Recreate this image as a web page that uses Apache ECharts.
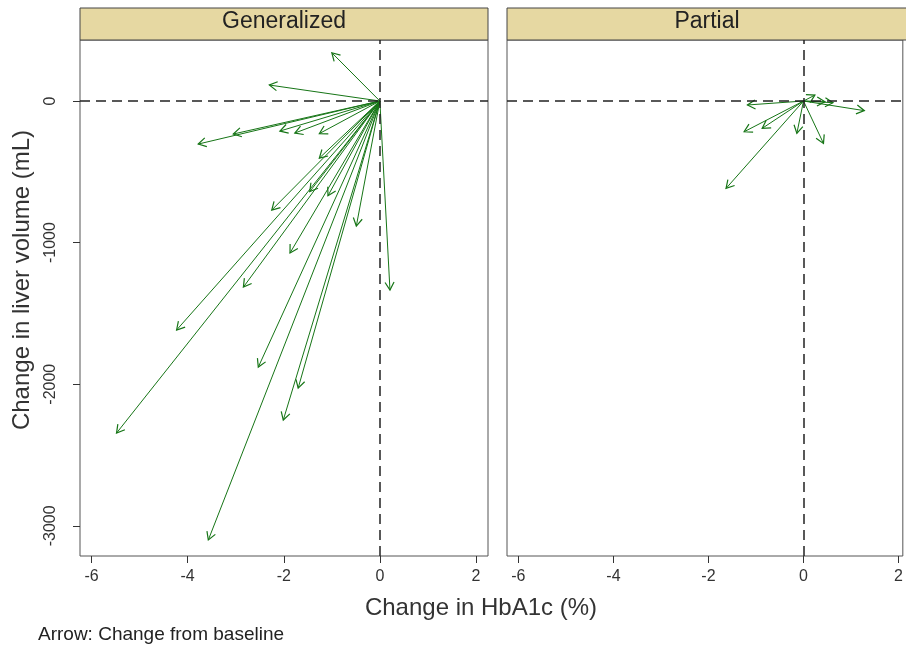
<!DOCTYPE html>
<html>
<head>
<meta charset="utf-8">
<script src="https://cdn.jsdelivr.net/npm/echarts@6/dist/echarts.min.js"></script>
<style>html,body{margin:0;padding:0;background:#fff}#c{width:906px;height:650px}</style>
</head>
<body>
<div id="c"></div>
<script>
// ---- data ----
const panels = ['Generalized', 'Partial'];
const xTicks = [-6, -4, -2, 0, 2];
const yTicks = [-3000, -2000, -1000, 0];
const genDX = [-1.00, -2.30, -3.78, -3.05, -2.08, -1.77, -1.26, -1.26, -1.46, -1.08, -2.25, -0.49, 0.21, -1.87, -2.84, -4.23, -2.53, -1.70, -2.01, -5.48, -3.57];
const genDY = [341, 113, -304, -233, -212, -226, -230, -403, -640, -669, -770, -883, -1335, -1073, -1314, -1617, -1879, -2027, -2253, -2345, -3100];
const parDX = [-1.18, -1.25, -0.87, -0.14, 0.42, -1.63, 1.28, 0.24, 0.45, 0.62];
const parDY = [-28, -217, -193, -228, -299, -617, -68, 42, -5, -12];
const xTitle = 'Change in HbA1c (%)';
const yTitle = 'Change in liver volume (mL)';
const note = 'Arrow: Change from baseline';

const FONT = '"Liberation Sans", Arial, sans-serif';
const GREEN = '#167516';

function renderArrow(params, api) {
  const s = api.coord([0, 0]);
  const e = api.coord([api.value(0), api.value(1)]);
  const ang = Math.atan2(e[1] - s[1], e[0] - s[0]);
  const L = 9, a = Math.PI / 6;
  const h1 = [e[0] - L * Math.cos(ang - a), e[1] - L * Math.sin(ang - a)];
  const h2 = [e[0] - L * Math.cos(ang + a), e[1] - L * Math.sin(ang + a)];
  return {
    type: 'group',
    children: [
      { type: 'line', shape: { x1: s[0], y1: s[1], x2: e[0], y2: e[1] }, style: { stroke: GREEN, lineWidth: 1 } },
      { type: 'polyline', shape: { points: [h1, e, h2] }, style: { stroke: GREEN, fill: null, lineWidth: 1.2 } }
    ]
  };
}

const grids = [
  { left: 80, top: 40, width: 408, height: 516 },
  { left: 507, top: 40, width: 399, height: 516 }
];
const xMax = [2.25, 2.09];

const xAxes = grids.map((g, i) => ({
  type: 'value', gridIndex: i, min: -6.24, max: xMax[i], position: 'bottom',
  axisLine: { show: false, onZero: false }, splitLine: { show: false },
  axisTick: { show: true, length: 7, lineStyle: { color: '#333' }, customValues: xTicks },
  axisLabel: { show: true, customValues: xTicks, color: '#333', fontSize: 16, fontFamily: FONT, margin: 13,
    formatter: v => String(v) }
}));
const yAxes = grids.map((g, i) => ({
  type: 'value', gridIndex: i, min: -3213, max: 431, position: 'left',
  axisLine: { show: false, onZero: false }, splitLine: { show: false },
  axisTick: { show: i === 0, length: 7, lineStyle: { color: '#333' }, customValues: yTicks },
  axisLabel: { show: i === 0, customValues: yTicks, rotate: 90, color: '#333', fontSize: 16, fontFamily: FONT, margin: 21,
    formatter: v => String(v) }
}));

function refLines() {
  return {
    symbol: 'none', silent: true, animation: false,
    label: { show: false },
    lineStyle: { type: [10, 6], color: '#222', width: 1.5 },
    data: [{ xAxis: 0 }, { yAxis: 0 }]
  };
}

const series = [
  { type: 'custom', xAxisIndex: 0, yAxisIndex: 0, renderItem: renderArrow, z: 3,
    data: genDX.map((x, i) => [x, genDY[i]]), markLine: refLines() },
  { type: 'custom', xAxisIndex: 1, yAxisIndex: 1, renderItem: renderArrow, z: 3,
    data: parDX.map((x, i) => [x, parDY[i]]), markLine: refLines() }
];

const graphic = [];
const stripW = [408, 408];
grids.forEach((g, i) => {
  graphic.push({ type: 'rect', shape: { x: g.left, y: 8, width: stripW[i], height: 32 },
    style: { fill: '#e6d8a2', stroke: '#444', lineWidth: 1 } });
  graphic.push({ type: 'text', x: g.left + stripW[i] / 2 - (i === 1 ? 4 : 0), y: 22,
    style: { text: panels[i], fill: '#222', font: '23px ' + FONT, textAlign: 'center', textVerticalAlign: 'middle' } });
});
graphic.push({ type: 'text', x: 481, y: 608,
  style: { text: xTitle, fill: '#333', font: '24px ' + FONT, textAlign: 'center', textVerticalAlign: 'middle' } });
graphic.push({ type: 'text', x: 22, y: 280, rotation: Math.PI / 2,
  style: { text: yTitle, fill: '#333', font: '24px ' + FONT, textAlign: 'center', textVerticalAlign: 'middle' } });
graphic.push({ type: 'text', x: 38, y: 635,
  style: { text: note, fill: '#222', font: '19px ' + FONT, textAlign: 'left', textVerticalAlign: 'middle' } });

const chart = echarts.init(document.getElementById('c'), null, { renderer: 'canvas' });
chart.setOption({
  animation: false,
  backgroundColor: '#fff',
  grid: grids.map(g => Object.assign({ show: true, borderColor: '#555', borderWidth: 1, backgroundColor: '#fff' }, g)),
  xAxis: xAxes, yAxis: yAxes, series: series, graphic: graphic
});
</script>
</body>
</html>
